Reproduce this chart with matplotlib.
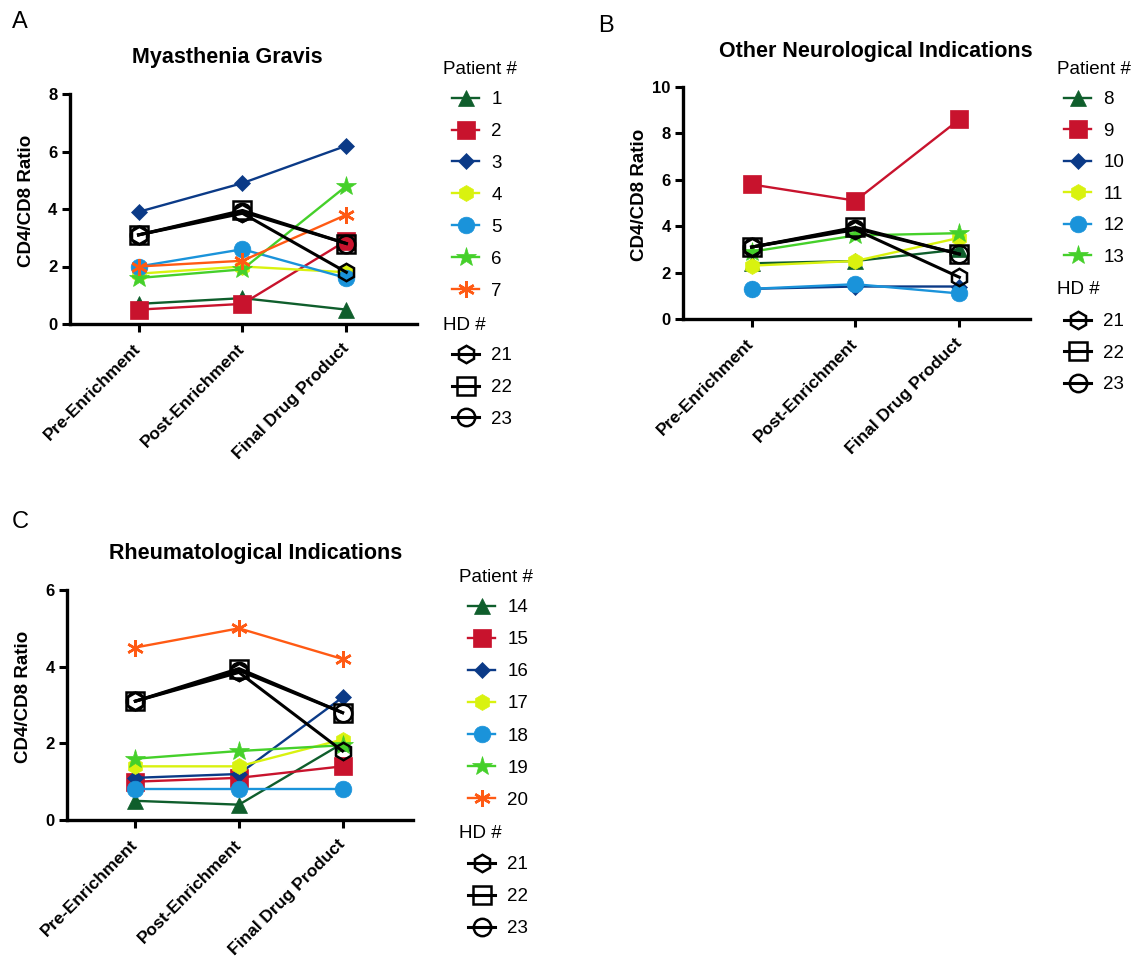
import matplotlib
matplotlib.use("Agg")
import matplotlib.pyplot as plt

plt.rcParams['font.family'] = ['Liberation Sans', 'DejaVu Sans']

stages = ["Pre-Enrichment", "Post-Enrichment", "Final Drug Product"]

# Panel A - Myasthenia Gravis
mg_ids = ["1", "2", "3", "4", "5", "6", "7"]
mg_vals = [
    [0.7, 0.9, 0.5],
    [0.5, 0.7, 2.9],
    [3.9, 4.9, 6.2],
    [1.75, 2.0, 1.8],
    [2.0, 2.6, 1.6],
    [1.6, 1.9, 4.8],
    [2.0, 2.2, 3.8],
]

# Panel B - Other Neurological Indications
oni_ids = ["8", "9", "10", "11", "12", "13"]
oni_vals = [
    [2.4, 2.5, 3.0],
    [5.8, 5.1, 8.6],
    [1.3, 1.4, 1.4],
    [2.3, 2.5, 3.5],
    [1.3, 1.5, 1.1],
    [2.9, 3.6, 3.7],
]

# Panel C - Rheumatological Indications
rh_ids = ["14", "15", "16", "17", "18", "19", "20"]
rh_vals = [
    [0.5, 0.4, 2.0],
    [1.0, 1.1, 1.4],
    [1.1, 1.2, 3.2],
    [1.4, 1.4, 2.1],
    [0.8, 0.8, 0.8],
    [1.6, 1.8, 1.95],
    [4.5, 5.0, 4.2],
]

# Healthy donors (same in all panels)
hd_ids = ["21", "22", "23"]
hd_vals = [
    [3.1, 3.85, 1.8],
    [3.1, 3.95, 2.8],
    [3.1, 3.9, 2.8],
]

colors = ["#0f5e2c", "#c8132d", "#0b3a87", "#d9f20f", "#1a93da", "#45d02a", "#ff5a14"]
markers = ["^", "s", "D", "h", "o", "*", (6, 2, 0)]
msizes = [12, 12.5, 8.5, 11.5, 12, 15, 12]
hd_markers = ["h", "s", "o"]
hd_msizes = [12.5, 13, 12.5]

W, H = 1139, 960
fig = plt.figure(figsize=(W / 100, H / 100), dpi=100)


def fx(px):
    return px / W


def fy(py):
    return 1 - py / H


def panel(rect, title, title_xy, letter, letter_xy, ids, vals, ymax, ystep,
          leg_x, title_left, pat_top, hd_title_y, hd_top, spacing):
    l, t, r, b = rect
    ax = fig.add_axes([fx(l), fy(b), fx(r - l), (b - t) / H])
    handles = []
    for k, (pid, v) in enumerate(zip(ids, vals)):
        m = markers[k]
        mew = 1.8 if k == 6 else 0.5
        ln, = ax.plot(range(3), v, color=colors[k], lw=1.7, marker=m,
                      ms=msizes[k], mec=colors[k], mfc=colors[k], mew=mew,
                      label=pid, clip_on=False)
        handles.append(ln)
    hd_handles = []
    for j, (hid, v) in enumerate(zip(hd_ids, hd_vals)):
        ln, = ax.plot(range(3), v, color="black", lw=2.2, marker=hd_markers[j],
                      ms=hd_msizes[j], mec="black", mfc="none", mew=1.8,
                      label=hid, clip_on=False)
        hd_handles.append(ln)
    ax.set_xlim(-0.66, 2.68)
    ax.set_ylim(0, ymax)
    ax.set_yticks(range(0, ymax + 1, ystep))
    ax.set_xticks(range(3))
    ax.set_xticklabels(stages, rotation=45, ha="right", va="center",
                       rotation_mode="anchor", fontsize=12.5, fontweight="bold")
    for lab in ax.get_yticklabels():
        lab.set_fontweight("bold")
        lab.set_fontsize(12)
    ax.tick_params(axis="both", direction="out", length=6, width=2.2)
    ax.tick_params(axis="x", pad=10)
    ax.tick_params(axis="y", pad=3)
    for s in ["top", "right"]:
        ax.spines[s].set_visible(False)
    for s in ["left", "bottom"]:
        ax.spines[s].set_linewidth(2.4)
    ax.set_ylabel("CD4/CD8 Ratio", fontsize=13.5, fontweight="bold")
    ax.yaxis.set_label_coords(-0.1, 0.535)

    fig.text(fx(title_xy[0]), fy(title_xy[1]), title, ha="center", va="center",
             fontsize=15.5, fontweight="bold")
    fig.text(fx(letter_xy[0]), fy(letter_xy[1]), letter, ha="left", va="center",
             fontsize=17)

    fig.text(fx(title_left), fy(pat_top - 30), "Patient #", ha="left",
             va="center", fontsize=13.5)
    fig.text(fx(title_left), fy(hd_title_y), "HD #", ha="left", va="center",
             fontsize=13.5)
    kw = dict(loc="upper left", bbox_transform=fig.transFigure, frameon=False,
              fontsize=13.5, handlelength=1.45, handletextpad=0.65,
              labelspacing=spacing, borderpad=0, borderaxespad=0, numpoints=1)
    leg1 = ax.legend(handles=handles, bbox_to_anchor=(fx(leg_x), fy(pat_top - 8)), **kw)
    ax.add_artist(leg1)
    ax.legend(handles=hd_handles, bbox_to_anchor=(fx(leg_x), fy(hd_top - 8)), **kw)
    return ax


panel((70, 94, 417, 324), "Myasthenia Gravis", (227, 58), "A", (12, 22),
      mg_ids, mg_vals, 8, 2, 452, 443, 99, 325, 355, 0.79)
panel((683, 87, 1030, 319), "Other Neurological Indications", (876, 52), "B",
      (598, 26), oni_ids, oni_vals, 10, 2, 1064, 1057, 99, 289, 321, 0.77)
panel((67, 590, 413, 820), "Rheumatological Indications", (256, 554), "C",
      (12, 522), rh_ids, rh_vals, 6, 2, 468, 459, 607, 833, 864, 0.8)

fig.savefig("out.png", dpi=100)
